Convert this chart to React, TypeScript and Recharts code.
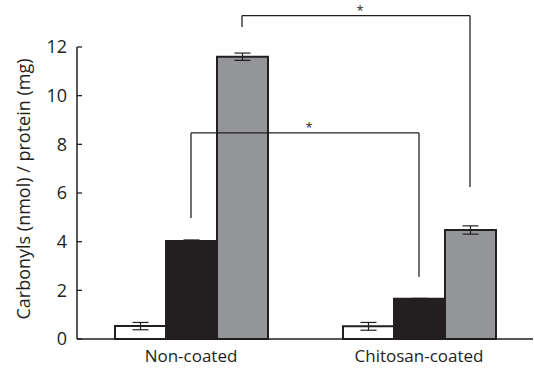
import React from 'react';
import { BarChart, Bar, XAxis, YAxis, ErrorBar, ReferenceLine } from 'recharts';

const categories = ['Non-coated', 'Chitosan-coated'];
const whiteValues = [0.53, 0.52];
const whiteErrors = [0.15, 0.16];
const blackValues = [4.03, 1.65];
const blackErrors = [0.04, 0.02];
const grayValues = [11.6, 4.48];
const grayErrors = [0.15, 0.17];
const yTicks = [0, 2, 4, 6, 8, 10, 12];
const yLabel = 'Carbonyls (nmol) / protein (mg)';

// significance brackets: series index (0 white, 1 black, 2 gray)
const brackets = [
  { from: 'Non-coated', to: 'Chitosan-coated', series: 1, top: 8.47, leftEnd: 4.97, rightEnd: 2.56, mark: '*' },
  { from: 'Non-coated', to: 'Chitosan-coated', series: 2, top: 13.29, leftEnd: 12.82, rightEnd: 6.25, mark: '*' },
];

const data = categories.map((c, i) => ({
  name: c,
  white: whiteValues[i],
  whiteErr: whiteErrors[i],
  black: blackValues[i],
  blackErr: blackErrors[i],
  gray: grayValues[i],
  grayErr: grayErrors[i],
}));

const INK = '#231f20';
const FONT = '"Open Sans", "Noto Sans", sans-serif';
const BAR_SIZE = 51;
const seriesOffset = (s: number) => (s - 1) * BAR_SIZE;

const makeShape = (dx1: number, dx2: number, mark?: string) => (p: any) => {
  const x1 = p.x1 + dx1;
  const x2 = p.x2 + dx2;
  return (
    <g>
      <line x1={x1} y1={p.y1} x2={x2} y2={p.y2} stroke={INK} strokeWidth={1.3} />
      {mark ? (
        <text x={(x1 + x2) / 2 + 4} y={p.y1 - 1} textAnchor="middle" fontSize={13} fontFamily={FONT} fill={INK}>
          {mark}
        </text>
      ) : null}
    </g>
  );
};

export default function App() {
  return (
    <div style={{ position: 'absolute', left: 0, top: 0, width: 534, height: 369, background: '#fff' }}>
      <BarChart
        width={534}
        height={369}
        data={data}
        margin={{ top: 47, right: 1, bottom: 0, left: 37 }}
        barGap={0}
        barSize={BAR_SIZE}
      >
        <XAxis
          dataKey="name"
          height={30}
          axisLine={{ stroke: INK, strokeWidth: 1.5 }}
          tickLine={false}
          tick={{ fill: INK, fontSize: 17, fontFamily: FONT }}
          tickMargin={5}
        />
        <XAxis
          xAxisId="frame"
          type="number"
          domain={[0, 2]}
          ticks={[1, 2]}
          height={0}
          axisLine={false}
          tick={false}
          tickLine={{ stroke: INK, strokeWidth: 1.3 }}
          tickSize={-5}
        />
        <YAxis
          domain={[0, 12]}
          ticks={yTicks}
          width={40}
          axisLine={{ stroke: INK, strokeWidth: 1.5 }}
          tickLine={{ stroke: INK, strokeWidth: 1.3 }}
          tickSize={-5}
          tickMargin={15}
          tick={{ fill: INK, fontSize: 18, fontFamily: FONT }}
          label={{
            value: yLabel,
            angle: -90,
            position: 'insideLeft',
            dx: -18,
            dy: -4,
            style: { textAnchor: 'middle', fill: INK, fontSize: 18, fontFamily: FONT },
          }}
        />
        <Bar dataKey="white" fill="#ffffff" stroke={INK} strokeWidth={2} isAnimationActive={false}>
          <ErrorBar dataKey="whiteErr" width={8} stroke={INK} strokeWidth={1.2} direction="y" />
        </Bar>
        <Bar dataKey="black" fill={INK} stroke={INK} strokeWidth={2} isAnimationActive={false}>
          <ErrorBar dataKey="blackErr" width={8} stroke={INK} strokeWidth={1.2} direction="y" />
        </Bar>
        <Bar dataKey="gray" fill="#939598" stroke={INK} strokeWidth={2} isAnimationActive={false}>
          <ErrorBar dataKey="grayErr" width={8} stroke={INK} strokeWidth={1.2} direction="y" />
        </Bar>
        {brackets.map((b, i) => {
          const off = seriesOffset(b.series);
          return (
            <React.Fragment key={i}>
              <ReferenceLine
                segment={[{ x: b.from, y: b.top }, { x: b.to, y: b.top }]}
                ifOverflow="visible"
                shape={makeShape(off, off, b.mark)}
              />
              <ReferenceLine
                segment={[{ x: b.from, y: b.top }, { x: b.from, y: b.leftEnd }]}
                ifOverflow="visible"
                shape={makeShape(off, off)}
              />
              <ReferenceLine
                segment={[{ x: b.to, y: b.top }, { x: b.to, y: b.rightEnd }]}
                ifOverflow="visible"
                shape={makeShape(off, off)}
              />
            </React.Fragment>
          );
        })}
      </BarChart>
    </div>
  );
}
